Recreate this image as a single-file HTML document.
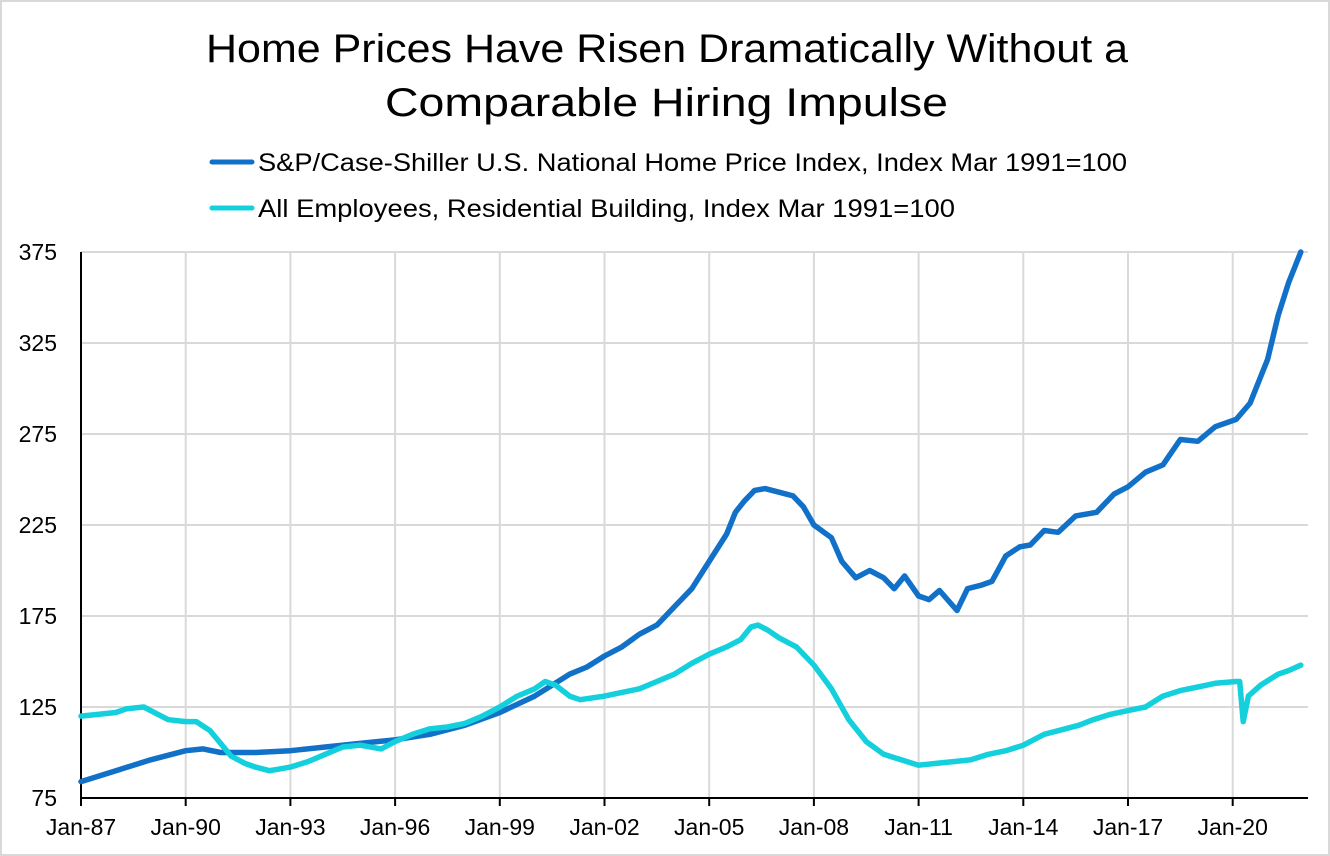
<!DOCTYPE html>
<html><head><meta charset="utf-8"><style>
body{margin:0;background:#fff;font-family:"Liberation Sans",sans-serif}
#wrap{position:relative;width:1330px;height:856px;box-sizing:border-box;border:2px solid #d9d9d9;background:#fff}
</style></head><body>
<div id="wrap">
<svg id="chart" width="1326" height="852" style="position:absolute;left:0;top:0">
<text x="204" y="60" textLength="922" lengthAdjust="spacingAndGlyphs" font-size="40" fill="#000">Home Prices Have Risen Dramatically Without a</text>
<text x="383" y="114" textLength="563" lengthAdjust="spacingAndGlyphs" font-size="40" fill="#000">Comparable Hiring Impulse</text>
<g>
<line x1="210" y1="160" x2="250" y2="160" stroke="#1170c8" stroke-width="5" stroke-linecap="round"/>
<text x="256" y="169" textLength="869" lengthAdjust="spacingAndGlyphs" font-size="25" fill="#000">S&amp;P/Case-Shiller U.S. National Home Price Index, Index Mar 1991=100</text>
<line x1="210" y1="206" x2="250" y2="206" stroke="#14d0dc" stroke-width="5" stroke-linecap="round"/>
<text x="256" y="215" textLength="697" lengthAdjust="spacingAndGlyphs" font-size="25" fill="#000">All Employees, Residential Building, Index Mar 1991=100</text>
</g>
<g id="grid"></g><g id="axes"></g><g id="series"></g>
</svg>
</div>
<script>
const yTicks=[75,125,175,225,275,325,375];
const xTickYears=[1987,1990,1993,1996,1999,2002,2005,2008,2011,2014,2017,2020];
const xTickLabels=["Jan-87","Jan-90","Jan-93","Jan-96","Jan-99","Jan-02","Jan-05","Jan-08","Jan-11","Jan-14","Jan-17","Jan-20"];
const hpiDates=[1987,1988,1989,1990,1990.5,1991,1991.5,1992,1993,1994,1995,1996,1997,1998,1999,2000,2000.5,2001,2001.5,2002,2002.5,2003,2003.5,2004,2004.5,2005,2005.5,2005.75,2006,2006.3,2006.6,2007,2007.4,2007.7,2008,2008.5,2008.8,2009.2,2009.6,2010,2010.3,2010.6,2011,2011.3,2011.6,2012.1,2012.4,2012.8,2013.1,2013.5,2013.9,2014.2,2014.6,2015,2015.5,2016.1,2016.6,2017,2017.5,2018,2018.5,2019,2019.5,2020.1,2020.5,2021,2021.3,2021.6,2021.95];
const hpiValues=[84,90,96,101,102,100,100,100,101,103,105,107,110,115,122,131,137,143,147,153,158,165,170,180,190,205,220,232,238,244,245,243,241,235,225,218,205,196,200,196,190,197,186,184,189,178,190,192,194,208,213,214,222,221,230,232,242,246,254,258,272,271,279,283,292,316,340,358,375];
const empDates=[1987,1988,1988.3,1988.8,1989.2,1989.5,1990,1990.3,1990.7,1991,1991.3,1991.7,1992,1992.4,1992.7,1993,1993.5,1994,1994.5,1995,1995.6,1996,1996.5,1997,1997.5,1998,1998.5,1999,1999.5,2000,2000.3,2000.6,2001,2001.3,2002,2002.5,2003,2003.5,2004,2004.5,2005,2005.5,2005.9,2006.2,2006.4,2006.7,2007,2007.5,2008,2008.5,2009,2009.5,2010,2010.5,2011,2011.5,2012,2012.5,2013,2013.5,2014,2014.6,2015,2015.6,2016,2016.5,2017,2017.5,2018,2018.5,2019,2019.5,2020.1,2020.2,2020.3,2020.45,2020.8,2021.3,2021.6,2021.95];
const empValues=[120,122,124,125,121,118,117,117,112,105,98,94,92,90,91,92,95,99,103,104,102,106,110,113,114,116,120,125,131,135,139,137,131,129,131,133,135,139,143,149,154,158,162,169,170,167,163,158,148,135,118,106,99,96,93,94,95,96,99,101,104,110,112,115,118,121,123,125,131,134,136,138,139,139,117,131,137,143,145,148];
const L=79,R=1306,T=250,B=796;
const xs=y=>L+(y-1987)*34.9;
const ys=v=>B-(v-75)*(B-T)/300;
const NS="http://www.w3.org/2000/svg";
function mk(t,a,p){const e=document.createElementNS(NS,t);for(const k in a)e.setAttribute(k,a[k]);p.appendChild(e);return e;}
const grid=document.getElementById('grid'),axes=document.getElementById('axes'),ser=document.getElementById('series');
yTicks.forEach(v=>{
 const g=mk('line',{x1:L,x2:R,y1:ys(v),y2:ys(v),stroke:'#d9d9d9','stroke-width':2},grid);
 
 
 const t=mk('text',{x:55,y:ys(v)+8,'text-anchor':'end','font-size':23,fill:'#000'},axes);
 t.textContent=v;
 
 
});
xTickYears.forEach((yr,i)=>{
 if(i>0){const g=mk('line',{x1:xs(yr),x2:xs(yr),y1:T,y2:B,stroke:'#d9d9d9','stroke-width':2},grid);
 
 }
 const tk=mk('line',{x1:xs(yr),x2:xs(yr),y1:B,y2:B+8,stroke:'#000','stroke-width':2},axes);
 
 
 const t=mk('text',{x:xs(yr),y:B+37,'text-anchor':'middle','font-size':23,fill:'#000'},axes);
 t.textContent=xTickLabels[i];
 
 
});
const ya=mk('line',{x1:L,x2:L,y1:T,y2:B+1,stroke:'#000','stroke-width':2},axes);


const xa=mk('line',{x1:L,x2:R,y1:B,y2:B,stroke:'#000','stroke-width':2},axes);


function draw(d,v,c,name){
 const pts=d.map((x,i)=>xs(x).toFixed(1)+','+ys(v[i]).toFixed(1)).join(' ');
 const p=mk('polyline',{points:pts,fill:'none',stroke:c,'stroke-width':5.5,'stroke-linejoin':'round','stroke-linecap':'round'},ser);
 
 
}
draw(hpiDates,hpiValues,'#1170c8','line-home-price-index');
draw(empDates,empValues,'#14d0dc','line-residential-employees');
</script>
</body></html>
